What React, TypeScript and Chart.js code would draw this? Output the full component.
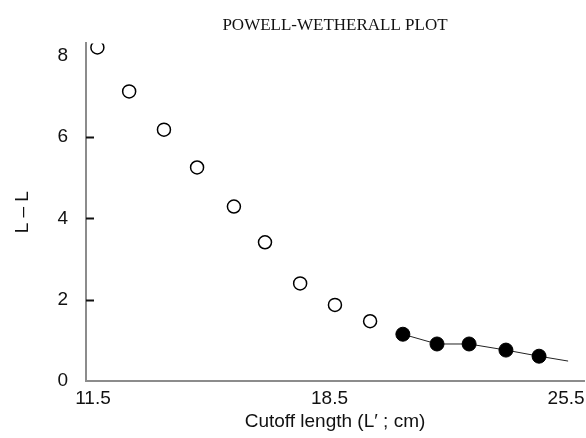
import React, { useEffect, useRef } from "react";
import { Chart, registerables } from "chart.js";

Chart.register(...registerables);

const openX = [11.63, 12.57, 13.6, 14.58, 15.67, 16.59, 17.63, 18.66, 19.7];
const openY = [8.2, 7.12, 6.18, 5.25, 4.29, 3.41, 2.4, 1.87, 1.47];
const filledX = [20.67, 21.68, 22.63, 23.72, 24.7];
const filledY = [1.15, 0.91, 0.91, 0.76, 0.61];
const lineX = [20.67, 21.68, 22.63, 23.72, 24.7, 25.56];
const lineY = [1.15, 0.91, 0.91, 0.76, 0.61, 0.49];
const xTicks = [11.5, 18.5, 25.5];
const yTicks = [0, 2, 4, 6, 8];
const innerTicks = [2, 4, 6];

const innerTickPlugin = {
  id: "innerTicks",
  afterDraw(chart: any) {
    const { ctx, chartArea, scales } = chart;
    ctx.save();
    ctx.strokeStyle = "#111";
    ctx.lineWidth = 2;
    innerTicks.forEach((v) => {
      const y = Math.round(scales.y.getPixelForValue(v)) + 0.5;
      ctx.beginPath();
      ctx.moveTo(chartArea.left, y);
      ctx.lineTo(chartArea.left + 8, y);
      ctx.stroke();
    });
    ctx.restore();
  },
};

export default function App() {
  const ref = useRef<HTMLCanvasElement>(null);
  useEffect(() => {
    document.body.style.margin = "0";
    const canvas = ref.current!;
    const chart = new Chart(canvas, {
      type: "scatter",
      data: {
        datasets: [
          {
            data: lineX.map((x, i) => ({ x, y: lineY[i] })),
            showLine: true,
            borderColor: "#222",
            borderWidth: 1,
            pointRadius: 0,
            order: 3,
          },
          {
            data: openX.map((x, i) => ({ x, y: openY[i] })),
            pointRadius: 6.5,
            pointBorderWidth: 1.5,
            pointBorderColor: "#000",
            pointBackgroundColor: "#fff",
            order: 1,
          },
          {
            data: filledX.map((x, i) => ({ x, y: filledY[i] })),
            pointRadius: 7,
            pointBorderWidth: 1,
            pointBorderColor: "#000",
            pointBackgroundColor: "#000",
            order: 2,
          },
        ],
      },
      options: {
        animation: false,
        responsive: false,
        layout: { autoPadding: false, padding: { right: 2, left: 0, top: 0, bottom: 0 } },
        plugins: {
          legend: { display: false },
          tooltip: { enabled: false },
          title: {
            display: true,
            fullSize: false,
            text: "POWELL-WETHERALL PLOT",
            color: "#111",
            font: { family: "Liberation Serif", size: 17, weight: "normal", lineHeight: 1.2 },
            padding: { top: 15, bottom: 8 },
          },
        },
        scales: {
          x: {
            type: "linear",
            min: 11.293,
            max: 26.03,
            afterBuildTicks: (s: any) => {
              s.ticks = xTicks.map((v) => ({ value: v }));
            },
            afterFit: (s: any) => {
              s.height = 57;
              s.paddingRight = 0;
              s.paddingLeft = 0;
            },
            grid: { display: false, drawTicks: false },
            border: { display: true, color: "#8c8c8c", width: 2 },
            ticks: {
              color: "#111",
              padding: 6,
              maxRotation: 0,
              font: { family: "Liberation Sans", size: 19 },
              callback: (v: any) => Number(v).toFixed(1),
            },
            title: {
              display: true,
              text: "Cutoff length (L\u2032 ; cm)",
              color: "#111",
              font: { family: "Liberation Sans", size: 19 },
              padding: { top: 0, bottom: 5 },
            },
          },
          y: {
            type: "linear",
            min: 0,
            max: 8.3,
            afterBuildTicks: (s: any) => {
              s.ticks = yTicks.map((v) => ({ value: v }));
            },
            afterFit: (s: any) => {
              s.width = 86;
              s.paddingTop = 0;
              s.paddingBottom = 0;
            },
            grid: { display: false, drawTicks: false },
            border: { display: true, color: "#8c8c8c", width: 2 },
            ticks: {
              color: "#111",
              padding: 18,
              font: { family: "Liberation Sans", size: 19 },
            },
            title: {
              display: true,
              text: "L \u2013 L",
              color: "#111",
              font: { family: "Liberation Sans", size: 19 },
              padding: { top: 11, bottom: 0 },
            },
          },
        },
      },
      plugins: [innerTickPlugin],
    });
    return () => chart.destroy();
  }, []);
  return <canvas ref={ref} width={586} height={438} style={{ display: "block" }} />;
}
